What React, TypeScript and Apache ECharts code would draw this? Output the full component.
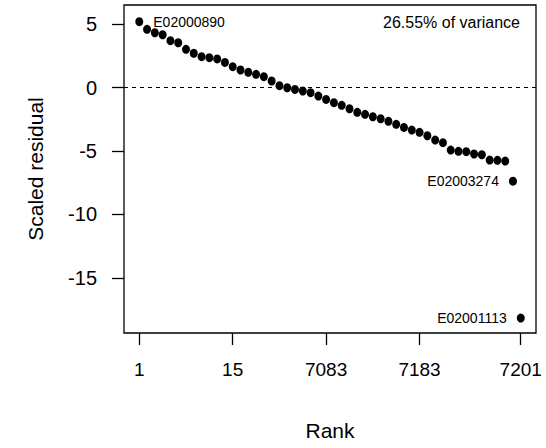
import React, { useEffect, useRef } from "react";
import * as echarts from "echarts";

// Scaled residuals, in rank order (point index 1..50)
const residuals = [
  5.21, 4.61, 4.34, 4.18, 3.71, 3.55, 3.03, 2.72, 2.45, 2.37,
  2.27, 2.0, 1.66, 1.4, 1.22, 1.06, 0.87, 0.53, 0.16, 0.0,
  -0.13, -0.26, -0.39, -0.66, -0.92, -1.18, -1.39, -1.66, -1.94, -2.1,
  -2.29, -2.45, -2.65, -2.89, -3.13, -3.34, -3.52, -3.79, -4.13, -4.34,
  -4.92, -5.02, -5.05, -5.23, -5.29, -5.71, -5.73, -5.79, -7.38, -18.18,
];

const xTickPositions = [1, 13, 25, 37, 50];
const xTickLabels = ["1", "15", "7083", "7183", "7201"];
const yTicks = [-15, -10, -5, 0, 5];

const labelledIndex = [1, 49, 50];
const labelledNames = ["E02000890", "E02003274", "E02001113"];
const labelledSide = ["right", "left", "left"];

const varianceText = "26.55% of variance";
const xTitle = "Rank";
const yTitle = "Scaled residual";

const FONT = "'Liberation Sans', Arial, Helvetica, sans-serif";

export default function App() {
  const ref = useRef<HTMLDivElement>(null);

  useEffect(() => {
    if (!ref.current) return;
    const chart = echarts.init(ref.current, undefined, { renderer: "svg" });

    const data = residuals.map((v, i) => {
      const idx = i + 1;
      const k = labelledIndex.indexOf(idx);
      const item: any = { value: [idx, v] };
      if (k >= 0) {
        item.label = {
          show: true,
          formatter: labelledNames[k],
          position: labelledSide[k],
          distance: 10,
          fontSize: 14,
          color: "#000",
          fontFamily: FONT,
        };
      }
      return item;
    });

    chart.setOption({
      animation: false,
      grid: {
        left: 124,
        right: 10,
        top: 5,
        bottom: 115,
        show: true,
        borderColor: "#000",
        borderWidth: 1.3,
        backgroundColor: "transparent",
      },
      xAxis: {
        type: "value",
        min: -0.96,
        max: 51.96,
        splitLine: { show: false },
        axisLine: { show: false, onZero: false },
        axisTick: {
          show: true,
          customValues: xTickPositions,
          length: 12,
          lineStyle: { color: "#000", width: 1.3 },
        },
        axisLabel: {
          customValues: xTickPositions,
          formatter: (v: number) => xTickLabels[xTickPositions.indexOf(v)] ?? "",
          margin: 27,
          fontSize: 19,
          color: "#000",
          fontFamily: FONT,
        },
        name: xTitle,
        nameLocation: "middle",
        nameGap: 87,
        nameTextStyle: { fontSize: 21, color: "#000", fontFamily: FONT },
      },
      yAxis: {
        type: "value",
        min: -19.36,
        max: 6.53,
        splitLine: { show: false },
        axisLine: { show: false, onZero: false },
        axisTick: {
          show: true,
          customValues: yTicks,
          length: 12,
          lineStyle: { color: "#000", width: 1.3 },
        },
        axisLabel: {
          customValues: yTicks,
          formatter: (v: number) => String(v),
          margin: 27,
          fontSize: 20,
          color: "#000",
          fontFamily: FONT,
        },
        name: yTitle,
        nameLocation: "middle",
        nameGap: 78,
        nameRotate: 90,
        nameTextStyle: { fontSize: 21, color: "#000", fontFamily: FONT },
      },
      graphic: [
        {
          type: "text",
          right: 26,
          top: 14,
          style: {
            text: varianceText,
            fontSize: 16,
            fill: "#000",
            fontFamily: FONT,
          },
        },
      ],
      series: [
        {
          type: "scatter",
          data,
          symbol: "circle",
          symbolSize: [8, 9],
          itemStyle: { color: "#000", opacity: 1 },
          markLine: {
            silent: true,
            symbol: "none",
            label: { show: false },
            lineStyle: { color: "#000", type: [4, 4], width: 1.2 },
            data: [{ yAxis: 0 }],
          },
        },
      ],
    });

    return () => chart.dispose();
  }, []);

  return (
    <div
      ref={ref}
      style={{ position: "fixed", left: 0, top: 0, width: 546, height: 448, background: "#fff" }}
    />
  );
}
